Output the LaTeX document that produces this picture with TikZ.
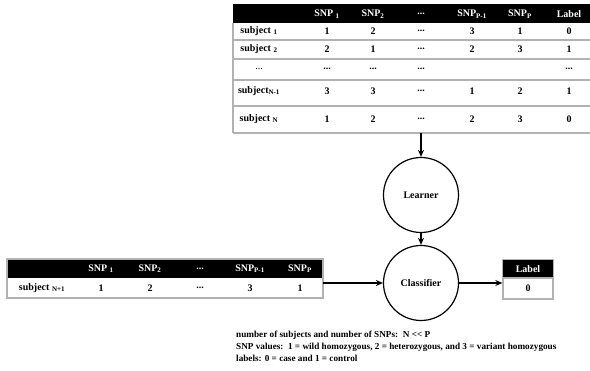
\documentclass[tikz,border=0pt]{standalone}
\usepackage{fontspec}
\setmainfont{Liberation Serif}
\usetikzlibrary{arrows.meta,positioning}
\newcommand{\ellip}{...}

\begin{document}
\begin{tikzpicture}[x=1pt,y=-1pt,node distance=88pt,on grid,
    font=\fontsize{10}{12}\selectfont\bfseries]
       \tikzstyle{grid}=[draw=gray!60,line width=1.3pt]
       \tikzstyle{hd}=[text=white]
       \tikzstyle{circ}=[circle,draw,line width=1.2pt,minimum size=75pt,inner sep=0pt]
       \tikzstyle{flow}=[-{Stealth[length=7pt,width=6pt]},line width=1.4pt]

       \useasboundingbox (0,0) rectangle (590,371);

       % training data
       \fill[black] (233,4) rectangle (590,23);
       \foreach \y in {40,59,80,106,133}
         \draw[grid] (233,\y) -- (590,\y);
       \draw[grid] (233,23) -- (233,133);

       \foreach \x/\t [count=\i] in {327/{SNP \textsubscript{1}},373/{SNP\textsubscript{2}},
           421/\ellip,472/{SNP\textsubscript{P-1}},520/{SNP\textsubscript{P}},569/Label}
         \node[hd] (th\i) at (\x,14) {\t};

       \foreach \y/\s/\ca/\cb/\cc/\cd/\ce/\cf [count=\r] in {
           31/{subject \textsubscript{1}}/1/2/\ellip/3/1/0,
           49/{subject \textsubscript{2}}/2/1/\ellip/2/3/1,
           69/{\mdseries\ellip}/\ellip/\ellip/\ellip/{}/{}/\ellip,
           91/{subject\textsubscript{N-1}}/3/3/\ellip/1/2/1,
           119/{subject \textsubscript{N}}/1/2/\ellip/2/3/0}
       {
         \node (s\r) at (259,\y) {\s};
         \node (a\r) at (327,\y) {\ca};
         \node (b\r) at (373,\y) {\cb};
         \node (c\r) at (421,\y) {\cc};
         \node (d\r) at (472,\y) {\cd};
         \node (e\r) at (520,\y) {\ce};
         \node (f\r) at (569,\y) {\cf};
       }
       \coordinate (tbot) at (421,133);

       % learner and classifier
       \node[circ] (learner) at (421,195) {Learner};
       \node[circ] (classifier) [below=of learner] {Classifier};

       % new subject
       \fill[black] (7,259) rectangle (323,278);
       \draw[grid] (7,259) rectangle (323,298);
       \foreach \x/\t [count=\i] in {101/{SNP \textsubscript{1}},150/{SNP\textsubscript{2}},
           200/\ellip,250/{SNP\textsubscript{P-1}},300/{SNP\textsubscript{P}}}
         \node[hd] (nh\i) at (\x,268.5) {\t};
       \foreach \x/\t [count=\i] in {42/{subject \textsubscript{N+1}},101/1,150/2,200/\ellip,250/3,300/1}
         \node (nv\i) at (\x,288) {\t};
       \coordinate (tright) at (323,283);

       % predicted label
       \node[fill=black,text=white,minimum width=50pt,minimum height=18pt,inner sep=0pt] (lhead) at (528,269) {Label};
       \node[grid,minimum width=50pt,minimum height=21pt,inner sep=0pt] (lbox) at (528,288.5) {0};
       \draw[grid] (lhead.north west) rectangle (lbox.south east);

       \path[flow]
       (tbot) edge (learner)
       (learner) edge (classifier)
       (tright) edge (tright -| classifier.west)
       (classifier.east) edge (classifier.east -| lbox.west);

       \node[anchor=north west,align=left,inner sep=0pt,font=\fontsize{9.2}{12}\selectfont\bfseries] (notes) at (236,331)
         {number of subjects and number of SNPs:\ \ N <{}< P\\
          SNP values:\ \ 1 = wild homozygous, 2 = heterozygous, and 3 = variant homozygous\\
          labels: 0 = case and 1 = control};
     \end{tikzpicture}
\end{document}
